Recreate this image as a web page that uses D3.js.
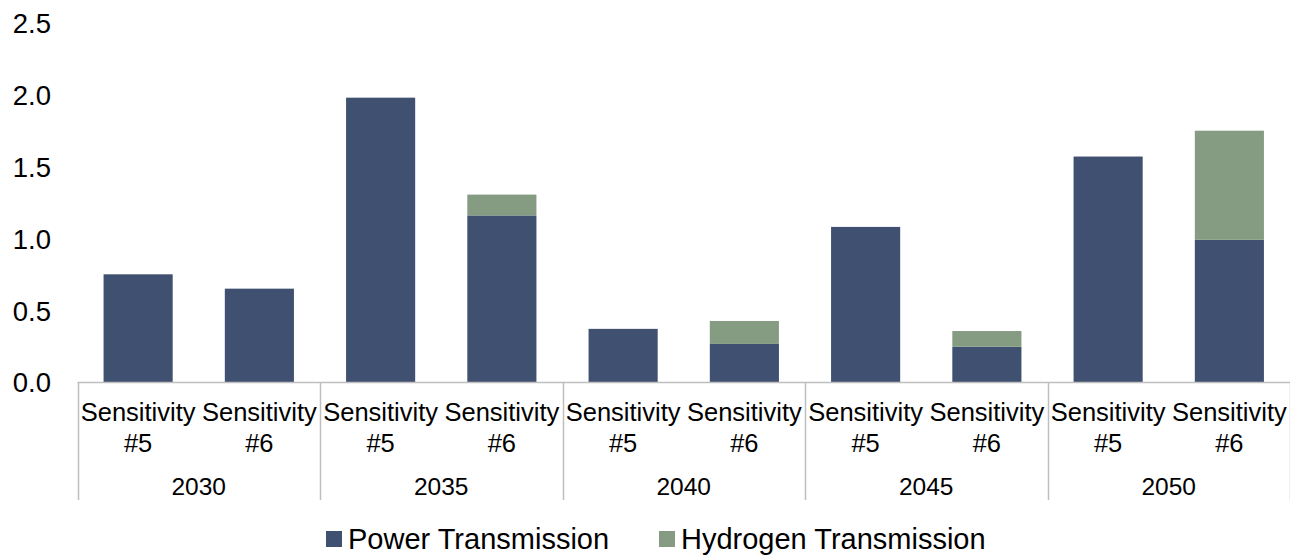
<!DOCTYPE html>
<html><head><meta charset="utf-8">
<script src="https://cdn.jsdelivr.net/npm/d3@7"></script>
<style>body{margin:0;background:#fff}svg{display:block}text{font-family:"Liberation Sans",Arial,sans-serif;fill:#000}</style>
</head><body>
<svg id="c" width="1290" height="556"></svg>
<script>
const years = ["2030","2035","2040","2045","2050"];
const scenarios = ["Sensitivity #5","Sensitivity #6"];
const seriesNames = ["Power Transmission","Hydrogen Transmission"];
const powerValues = [0.75,0.65, 1.98,1.16, 0.37,0.265, 1.08,0.245, 1.57,0.99];
const hydrogenValues = [0,0, 0,0.145, 0,0.16, 0,0.11, 0,0.76];
const yTicks = [0,0.5,1.0,1.5,2.0,2.5];
const colors = ["#3F5070","#859C83"];

const svg = d3.select("#c");
const left = 77.5, right = 1290, y0 = 382, yTop = 23;
const rows = [];
years.forEach((yr,i)=>scenarios.forEach((s,j)=>{
  const k=i*2+j;
  rows.push({key:yr+"|"+s, year:yr, scen:s, power:powerValues[k], hydrogen:hydrogenValues[k]});
}));
const x = d3.scaleBand().domain(rows.map(d=>d.key)).range([left,right]).paddingInner(0.43).paddingOuter(0.215);
const y = d3.scaleLinear().domain([0,2.5]).range([y0,yTop]);
const stack = d3.stack().keys(["power","hydrogen"])(rows);

svg.append("g").selectAll("g").data(stack).join("g")
  .attr("fill",(d,i)=>colors[i])
  .selectAll("rect").data(d=>d.filter(e=>e[1]-e[0]>0)).join("rect")
  .attr("x",d=>x(d.data.key)).attr("width",x.bandwidth())
  .attr("y",d=>y(d[1])).attr("height",d=>y(d[0])-y(d[1]));

// y axis labels
const ya = svg.append("g").attr("transform","translate(51,0)")
  .call(d3.axisLeft(y).tickValues(yTicks).tickFormat(d3.format(".1f")).tickSize(0).tickPadding(0));
ya.select(".domain").remove();
ya.selectAll("text").attr("font-size",27.5).attr("font-family","Liberation Sans, Arial, sans-serif").attr("fill","#000").attr("dy","0.36em");

// x axis line
const gx = svg.append("g");
gx.append("line").attr("x1",left).attr("x2",right).attr("y1",y0+0.5).attr("y2",y0+0.5).attr("stroke","#BFBFBF").attr("stroke-width",1.5);
const gscale = d3.scaleBand().domain(years).range([left,right]);
years.concat(["end"]).forEach((yr,i)=>{
  const xx = i<years.length ? gscale(yr) : right-0.5;
  gx.append("line").attr("x1",Math.round(xx)+0.5).attr("x2",Math.round(xx)+0.5).attr("y1",y0).attr("y2",500).attr("stroke","#BFBFBF").attr("stroke-width",1.5);
});
rows.forEach(d=>{
  const cx = x(d.key)+x.bandwidth()/2;
  const parts = d.scen.split(" ");
  const t = gx.append("text").attr("text-anchor","middle").attr("font-size",25.5);
  t.append("tspan").attr("x",cx).attr("y",421).text(parts[0]);
  t.append("tspan").attr("x",cx).attr("y",452).text(parts[1]);
});
years.forEach(yr=>{
  gx.append("text").attr("x",gscale(yr)+gscale.bandwidth()/2).attr("y",495).attr("text-anchor","middle").attr("font-size",24.5).text(yr);
});

// legend
const legX = [326,659];
seriesNames.forEach((n,i)=>{
  const g = svg.append("g").attr("transform",`translate(${legX[i]},0)`);
  g.append("rect").attr("x",0).attr("y",531).attr("width",16).attr("height",16).attr("fill",colors[i]);
  g.append("text").attr("x",22).attr("y",549).attr("font-size",29).text(n);
});
</script>
</body></html>
